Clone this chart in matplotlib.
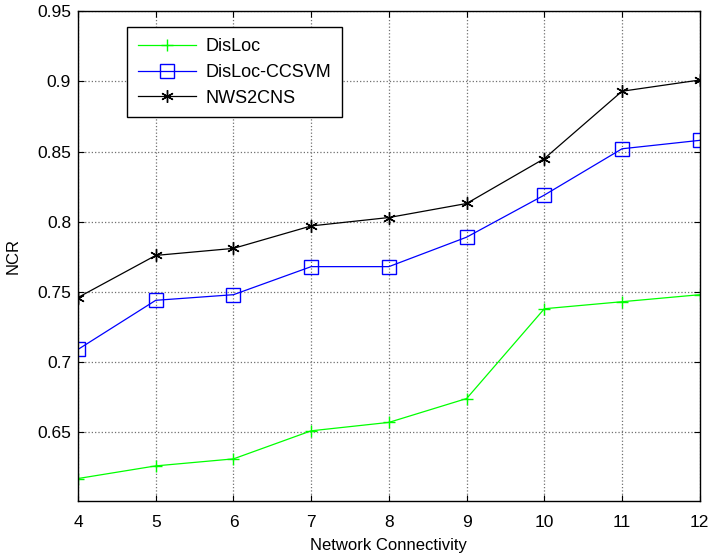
import matplotlib
matplotlib.use("Agg")
import matplotlib.pyplot as plt

plt.rcParams['font.family'] = ['Liberation Sans', 'DejaVu Sans']

connectivity = [4, 5, 6, 7, 8, 9, 10, 11, 12]
disloc = [0.617, 0.626, 0.631, 0.651, 0.657, 0.674, 0.738, 0.743, 0.748]
disloc_ccsvm = [0.709, 0.744, 0.748, 0.768, 0.768, 0.789, 0.819, 0.852, 0.858]
nws2cns = [0.746, 0.776, 0.781, 0.797, 0.803, 0.813, 0.845, 0.893, 0.901]

fig = plt.figure(figsize=(7.09, 5.54), dpi=100)
ax = fig.add_axes([0.110, 0.0957, 0.877, 0.884])

ax.plot(connectivity, disloc, color='#00ff00', marker='+', markersize=9,
        linewidth=0.9, label='DisLoc')
ax.plot(connectivity, disloc_ccsvm, color='#0000ff', marker='s', markersize=10,
        markerfacecolor='none', linewidth=0.9, label='DisLoc-CCSVM')
ax.plot(connectivity, nws2cns, color='black', marker=(6, 2, 0), markersize=9,
        linewidth=0.9, label='NWS2CNS')

ax.set_xlim(4, 12)
ax.set_ylim(0.601, 0.95)
ax.set_xticks(connectivity)
ax.set_yticks([0.65, 0.7, 0.75, 0.8, 0.85, 0.9, 0.95])
ax.set_yticklabels(['0.65', '0.7', '0.75', '0.8', '0.85', '0.9', '0.95'])
ax.grid(True, color='#707070', linestyle=':', linewidth=0.9)
ax.tick_params(direction='in', labelsize=12.5, length=4, top=True, right=True)
ax.tick_params(axis='x', pad=10)
ax.tick_params(axis='y', pad=5)
for s in ax.spines.values():
    s.set_linewidth(1.0)

ax.set_xlabel('Network Connectivity', fontsize=12, labelpad=6)
ax.set_ylabel('NCR', fontsize=12, labelpad=12)

leg = ax.legend(loc='upper left', bbox_to_anchor=(0.079, 0.967), fontsize=13,
                borderaxespad=0, fancybox=False, framealpha=1, edgecolor='black',
                handlelength=3.2, handletextpad=0.55, borderpad=0.6,
                labelspacing=0.48)
leg.get_frame().set_linewidth(1.0)

fig.savefig('out.png', dpi=100)
